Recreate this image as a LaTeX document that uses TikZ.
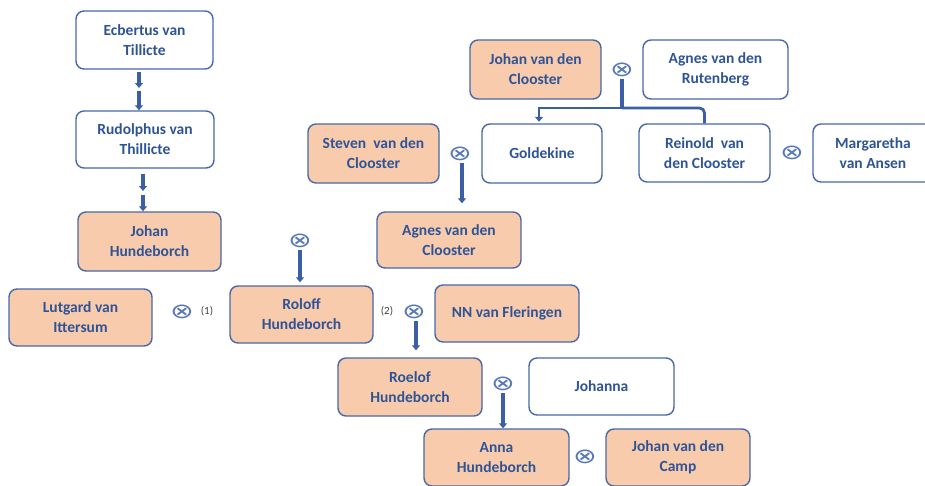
\documentclass[tikz,border=0pt]{standalone}
\usepackage{fontspec}
\setmainfont{Carlito}
\newfontfamily\symfont{DejaVu Sans}
\usetikzlibrary{arrows.meta}
\definecolor{txtblue}{RGB}{47,84,150}
\definecolor{boxblue}{RGB}{72,104,168}
\definecolor{symblue}{RGB}{88,120,182}
\definecolor{peach}{RGB}{248,203,173}
\definecolor{arrblue}{RGB}{58,95,165}
\begin{document}
\begin{tikzpicture}[x=1pt,y=-1pt,
    pers/.style={draw=boxblue,line width=1.4pt,rounded corners=8pt,fill=white,text=txtblue,
      align=center,inner sep=0pt,font=\bfseries\fontsize{15.5}{20}\selectfont},
    pch/.style={pers,fill=peach},
    ot/.style={inner sep=0pt,text=symblue,font=\symfont\fontsize{21}{21}\selectfont},
    num/.style={inner sep=0pt,text=black!75,font=\fontsize{11}{12}\selectfont},
    ln/.style={draw=arrblue,line width=3.2pt},
    arr/.style={ln,-{Triangle[width=8pt,length=5pt]}}]
    \useasboundingbox (0,0) rectangle (925,485);
    \node[pers,minimum width=137,minimum height=58](ecbertus)at(144.5,40){Ecbertus van\\Tillicte};
    \node[pers,minimum width=138,minimum height=57](rudolphus)at(145,139.5){Rudolphus van\\Thillicte};
    \node[pch,minimum width=143,minimum height=59](johanH)at(149.5,241.5){Johan\\Hundeborch};
    \node[pch,minimum width=143,minimum height=57](lutgard)at(80.5,317.5){Lutgard van\\Ittersum};
    \node[pch,minimum width=143,minimum height=57](roloff)at(301.5,314.5){Roloff\\Hundeborch};
    \node[pch,minimum width=144,minimum height=57](fleringen)at(507,313.5){NN van Fleringen};
    \node[pch,minimum width=144,minimum height=58](roelof)at(410,387){Roelof\\Hundeborch};
    \node[pers,minimum width=145,minimum height=57](johanna)at(601.5,386.5){Johanna};
    \node[pch,minimum width=145,minimum height=57](anna)at(496.5,457.5){Anna\\Hundeborch};
    \node[pch,minimum width=144,minimum height=57](camp)at(678,457.5){Johan van den\\Camp};
    \node[pch,minimum width=131,minimum height=59](johanC)at(535.5,69.5){Johan van den\\Clooster};
    \node[pers,minimum width=145,minimum height=59](rutenberg)at(715.5,69.5){Agnes van den\\Rutenberg};
    \node[pch,minimum width=131,minimum height=59](steven)at(373.5,153.5){Steven~ van den\\Clooster};
    \node[pers,minimum width=120,minimum height=59](goldekine)at(542,153.5){Goldekine};
    \node[pers,minimum width=131,minimum height=58](reinold)at(704.5,153){Reinold~ van\\den Clooster};
    \node[pers,minimum width=120,minimum height=58](margaretha)at(873,153){Margaretha\\van Ansen};
    \node[pch,minimum width=144,minimum height=56](agnesC)at(449,240){Agnes van den\\Clooster};
    \node[ot](oA)at(622,70){\scalebox{1.35}[1]{⊗}};
    \node[ot](oB)at(460,154){\scalebox{1.35}[1]{⊗}};
    \node[ot](oC)at(792,153){\scalebox{1.35}[1]{⊗}};
    \node[ot](oD)at(300,241){\scalebox{1.35}[1]{⊗}};
    \node[ot](oE)at(182,312){\scalebox{1.35}[1]{⊗}};
    \node[ot](oF)at(414,312){\scalebox{1.35}[1]{⊗}};
    \node[ot](oG)at(503,384){\scalebox{1.35}[1]{⊗}};
    \node[ot](oH)at(585,457){\scalebox{1.35}[1]{⊗}};
    \node[num](one)at(207,311){(1)};
    \node[num](two)at(387,311){(2)};
    \coordinate(ecA)at(139,88);
    \coordinate(ecB)at(139,91);
    \coordinate(ruA)at(143,191);
    \coordinate(ruB)at(143,195);
    \coordinate(jn)at(622,108);
    \coordinate(sB)at([xshift=2pt]oB.south);
    \coordinate(sF)at([xshift=2pt]oF.south);
    \draw[arr,shorten <=2pt](ecbertus.south -| ecA)--(ecA);
    \draw[arr](ecB)--(rudolphus.north -| ecB);
    \draw[arr,shorten <=5pt](rudolphus.south -| ruA)--(ruA);
    \draw[arr](ruB)--(johanH.north -| ruB);
    \draw[arr,shorten <=2pt,shorten >=3pt](oD.south)--(roloff.north -| oD.south);
    \draw[arr,shorten <=2pt,shorten >=8pt](sB)--(agnesC.north -| sB);
    \draw[ln,shorten <=2pt](oA.south)--(jn);
    \draw[arr,line width=2.8pt,shorten >=1.5pt](jn)-|([xshift=-3pt]goldekine.north);
    \draw[ln,line width=2.8pt,rounded corners=5pt](jn)-|(reinold.north);
    \draw[arr,shorten <=2pt,shorten >=7pt](sF)--(roelof.north -| sF);
    \draw[arr,shorten <=2pt](oG.south)--(anna.north -| oG.south);
\end{tikzpicture}
\end{document}
